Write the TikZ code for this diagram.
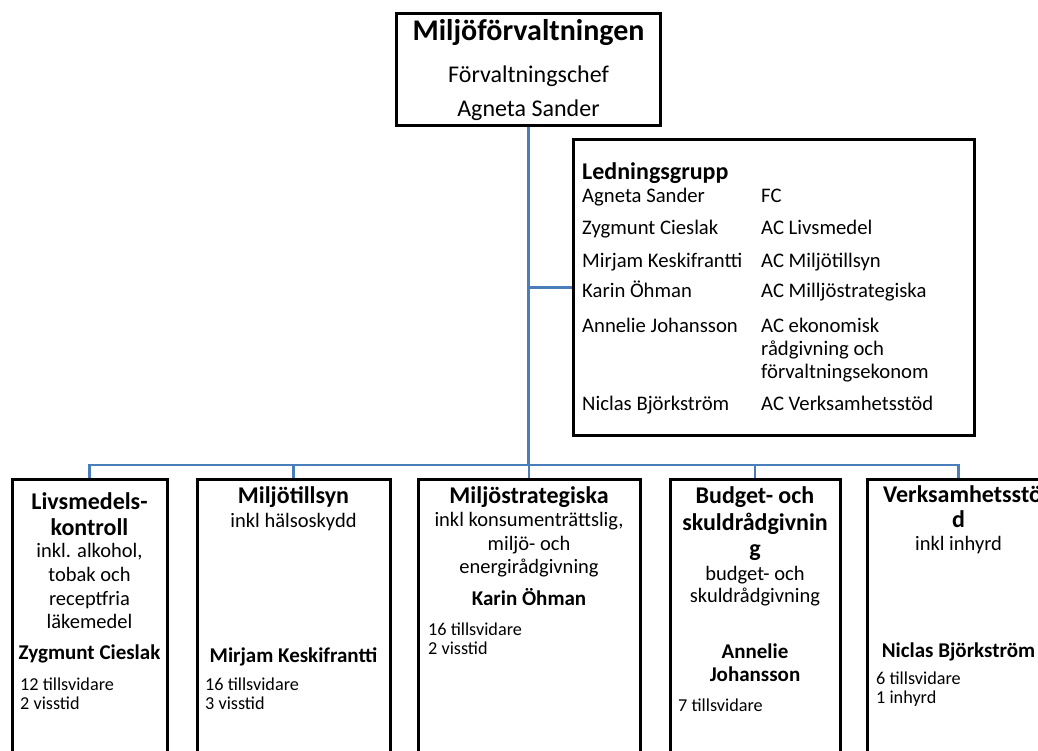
\documentclass[tikz,border=0pt]{standalone}
\usepackage{fontspec}
\setmainfont{Carlito}
\definecolor{linkblue}{RGB}{74,126,187}

\begin{document}
\begin{tikzpicture}[x=1pt,y=-1pt,
	box/.style={draw=black,line width=3pt,fill=white,inner sep=0pt},
	link/.style={draw=linkblue,line width=2.6pt},
	big/.style={font=\fontsize{30}{34}\selectfont\bfseries,inner sep=0pt,anchor=base},
	sub/.style={font=\fontsize{24}{28}\selectfont,inner sep=0pt,anchor=base},
	lhd/.style={font=\fontsize{24}{28}\selectfont\bfseries,inner sep=0pt,anchor=base west},
	lrow/.style={font=\fontsize{20.7}{24}\selectfont,inner sep=0pt,anchor=base west},
	hd/.style={font=\fontsize{24}{28}\selectfont\bfseries,inner sep=0pt,anchor=base},
	tx/.style={font=\fontsize{20.5}{24}\selectfont,inner sep=0pt,anchor=base},
	nm/.style={font=\fontsize{21}{24}\selectfont\bfseries,inner sep=0pt,anchor=base},
	ct/.style={font=\fontsize{18.2}{20}\selectfont,inner sep=0pt,anchor=base west}]
	\useasboundingbox (0,0) rectangle (1038,751);
	\clip (0,0) rectangle (1038,751);

	% boxes
	\node[box,minimum width=264pt,minimum height=112pt] (chef) at (528.5,70) {};
	\node[box,minimum width=401pt,minimum height=295pt] (led) at (773.5,287.5) {};
	\node[box,minimum width=155pt,minimum height=321pt] (livs) at (89.5,639.5) {};
	\node[box,minimum width=193pt,minimum height=321pt] (tills) at (293.5,639.5) {};
	\node[box,minimum width=222pt,minimum height=321pt] (strat) at (529,639.5) {};
	\node[box,minimum width=170pt,minimum height=321pt] (budget) at (755,639.5) {};
	\node[box,minimum width=183pt,minimum height=321pt] (verks) at (958.5,639.5) {};

	% lines
	\coordinate (bar) at (528.5,465);
	\draw[link] (chef.south) -- (bar);
	\draw[link] (led.west) -- (led.west -| chef.south);
	\foreach \b in {livs,tills,strat,budget,verks} \draw[link] (bar) -| (\b.north);

	% top
	\node[big] (chefT) at (528.5,41) {Miljöförvaltningen};
	\node[sub] (chefR) at (528.5,83) {Förvaltningschef};
	\node[sub] (chefN) at (528.5,117) {Agneta Sander};

	% ledningsgrupp
	\node[lhd] (ledT) at (582,180) {Ledningsgrupp};
	\foreach \n/\r/\y [count=\i] in {Agneta Sander/FC/203, Zygmunt Cieslak/AC Livsmedel/235,
		Mirjam Keskifrantti/AC Miljötillsyn/267, Karin Öhman/AC Milljöstrategiska/298,
		Annelie Johansson/AC ekonomisk/332, Niclas Björkström/AC Verksamhetsstöd/410} {
		\node[lrow] (m\i) at (582,\y) {\n};
		\node[lrow] (r\i) at (761,\y) {\r};
	}
	\node[lrow] (r5b) at (761,355) {rådgivning och};
	\node[lrow] (r5c) at (761,378) {förvaltningsekonom};

	% livsmedel
	\node[hd] (livsT1) at (89.5,509) {Livsmedels-};
	\node[hd] (livsT2) at (89.5,535) {kontroll};
	\foreach \t/\y [count=\i] in {{inkl. alkohol,}/557, tobak och/581, receptfria/605, läkemedel/628}
		\node[tx] (livsB\i) at (89.5,\y) {\t};
	\node[nm] (livsN) at (89.5,659) {Zygmunt Cieslak};
	\node[ct] (livsC1) at (20,690) {12 tillsvidare};
	\node[ct] (livsC2) at (20,709) {2 visstid};

	% miljotillsyn
	\node[hd] (tillsT) at (293.5,503) {Miljötillsyn};
	\node[tx] (tillsB) at (293.5,527) {inkl hälsoskydd};
	\node[nm] (tillsN) at (293.5,662) {Mirjam Keskifrantti};
	\node[ct] (tillsC1) at (205,690) {16 tillsvidare};
	\node[ct] (tillsC2) at (205,709) {3 visstid};

	% miljostrategiska
	\node[hd] (stratT) at (529,503) {Miljöstrategiska};
	\foreach \t/\y [count=\i] in {{inkl konsumenträttslig,}/526, miljö- och/550, energirådgivning/573}
		\node[tx] (stratB\i) at (529,\y) {\t};
	\node[nm] (stratN) at (529,605) {Karin Öhman};
	\node[ct] (stratC1) at (428,635) {16 tillsvidare};
	\node[ct] (stratC2) at (428,654) {2 visstid};

	% budget
	\node[hd] (budgetT1) at (755,503) {Budget- och};
	\node[hd] (budgetT2) at (755,530) {skuldrådgivnin};
	\node[hd] (budgetT3) at (755,556) {g};
	\node[tx] (budgetB1) at (755,580) {budget- och};
	\node[tx] (budgetB2) at (755,602) {skuldrådgivning};
	\node[nm] (budgetN1) at (755,658) {Annelie};
	\node[nm] (budgetN2) at (755,681) {Johansson};
	\node[ct] (budgetC) at (678,711) {7 tillsvidare};

	% verksamhetsstod
	\node[hd,anchor=base west] (verksT1) at (883,502) {Verksamhetsstö};
	\node[hd] (verksT2) at (958.5,527) {d};
	\node[tx] (verksB) at (958.5,550) {inkl inhyrd};
	\node[nm] (verksN) at (958.5,657) {Niclas Björkström};
	\node[ct] (verksC1) at (876,684) {6 tillsvidare};
	\node[ct] (verksC2) at (876,703) {1 inhyrd};
\end{tikzpicture}
\end{document}
